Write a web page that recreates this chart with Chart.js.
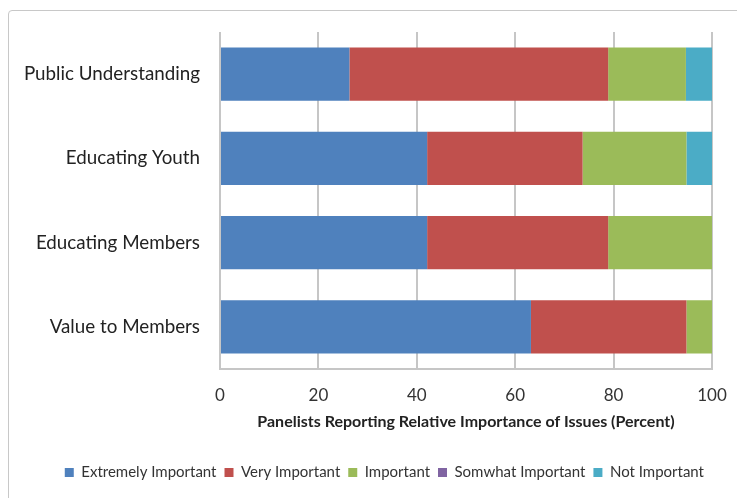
<!DOCTYPE html>
<html>
<head>
<meta charset="utf-8">
<script src="https://cdn.jsdelivr.net/npm/chart.js@4.4.1/dist/chart.umd.min.js"></script>
<style>
  html, body { margin: 0; padding: 0; background: #fff; }
  #wrap { position: relative; width: 737px; height: 498px; overflow: hidden; }
  #frame { position: absolute; left: 8px; top: 10px; width: 740px; height: 500px; border: 1px solid #c8c8c8; border-radius: 4px; box-sizing: border-box; }
  canvas { position: absolute; left: 0; top: 0; }
</style>
</head>
<body>
<div id="wrap">
  <div id="frame"></div>
  <canvas id="chart" width="737" height="498"></canvas>
</div>
<script>
// issue categories, top to bottom
const issues = ["Public Understanding", "Educating Youth", "Educating Members", "Value to Members"]

// percent of panelists per importance level
const extremelyImportant = [26.3, 42.1, 42.1, 63.2]
const veryImportant = [52.6, 31.6, 36.8, 31.6]
const important = [15.8, 21.1, 21.1, 5.3]
const somewhatImportant = [0, 0, 0, 0]
const notImportant = [5.3, 5.3, 0, 0]

const xTicks = [0, 20, 40, 60, 80, 100]

const font = "Lato, 'Open Sans', sans-serif"
const gridColor = "#c6c6c6"

const ctx = document.getElementById("chart").getContext("2d")

new Chart(ctx, {
  type: "bar",
  data: {
    labels: issues,
    datasets: [
      { label: "Extremely Important", data: extremelyImportant, backgroundColor: "#4f81bd" },
      { label: "Very Important", data: veryImportant, backgroundColor: "#c0504d" },
      { label: "Important", data: important, backgroundColor: "#9bbb59" },
      { label: "Somwhat Important", data: somewhatImportant, backgroundColor: "#8064a2" },
      { label: "Not Important", data: notImportant, backgroundColor: "#4bacc6" },
    ],
  },
  options: {
    indexAxis: "y",
    responsive: false,
    animation: false,
    layout: {
      padding: { left: 10, right: 25, top: 32, bottom: 8 },
    },
    datasets: {
      bar: { categoryPercentage: 1, barPercentage: 0.63, borderWidth: 0 },
    },
    scales: {
      x: {
        stacked: true,
        min: 0,
        max: 100,
        afterBuildTicks: scale => { scale.ticks = xTicks.map(v => ({ value: v })) },
        afterFit: scale => {
          scale.height = 88
          // let the "100" label hang into the right padding
          scale.paddingLeft = 0
          scale.paddingRight = 0
        },
        grid: { color: gridColor, lineWidth: 2, drawTicks: false },
        border: { color: gridColor, width: 2 },
        ticks: { padding: 16, color: "#333", font: { family: font, size: 17 } },
        title: {
          display: true,
          text: "Panelists Reporting Relative Importance of Issues (Percent)",
          color: "#222",
          font: { family: font, size: 16, weight: "bold" },
          padding: { top: 0, bottom: 26 },
        },
      },
      y: {
        stacked: true,
        afterFit: scale => { scale.width = 210 },
        grid: { display: false, drawTicks: false },
        border: { display: false },
        ticks: { padding: 20, color: "#222", font: { family: font, size: 18.8 } },
      },
    },
    plugins: {
      legend: {
        position: "bottom",
        align: "end",
        labels: {
          boxWidth: 9,
          boxHeight: 9,
          padding: 8,
          color: "#333",
          font: { family: font, size: 15 },
        },
      },
      tooltip: { enabled: false },
    },
  },
})
</script>
</body>
</html>
